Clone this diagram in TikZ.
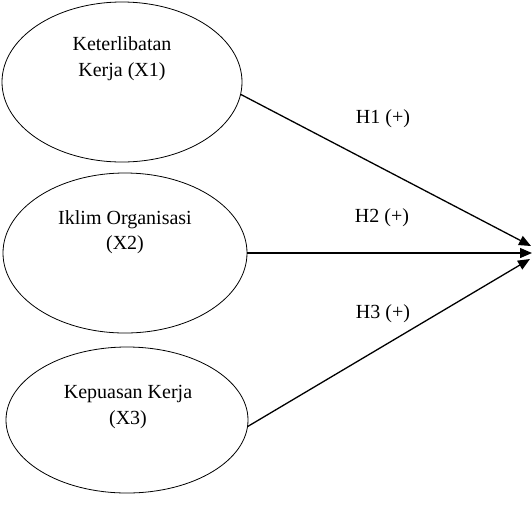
\documentclass[tikz,border=0pt]{standalone}
\usepackage{fontspec}
\setmainfont{Liberation Serif}
\usetikzlibrary{shapes.geometric,arrows.meta}
\begin{document}
\begin{tikzpicture}[x=1pt,y=-1pt,
  var/.style={draw,ellipse,line width=0.8pt,inner sep=0pt},
  txt/.style={anchor=base,inner sep=0pt,font=\fontsize{20}{24}\selectfont},
  arr/.style={line width=1.3pt,-{Triangle[length=12pt,width=10pt]}}]
\useasboundingbox (0,0) rectangle (532,512);
\node[var,minimum width=240pt,minimum height=160pt] (e1) at (122,82) {};
\node[var,minimum width=244pt,minimum height=160pt] (e2) at (125,253) {};
\node[var,minimum width=242pt,minimum height=146pt] (e3) at (127,420) {};
\node[txt] (t1a) at (122,50) {Keterlibatan};
\node[txt] (t1b) at (122,76) {Kerja (X1)};
\node[txt] (t2a) at (125,224) {Iklim Organisasi};
\node[txt] (t2b) at (125,249) {(X2)};
\node[txt] (t3a) at (128,398) {Kepuasan Kerja};
\node[txt] (t3b) at (128,424) {(X3)};
\coordinate (p1) at (531,246);
\coordinate (p2) at (532,253);
\coordinate (p3) at (530,259);
\draw[arr] (e1.-6) -- (p1);
\draw[arr] (e2.east) -- (p2);
\draw[arr] (e3.-3) -- (p3);
\node[txt] (h1) at (383,123) {H1 (+)};
\node[txt] (h2) at (382,222) {H2 (+)};
\node[txt] (h3) at (383,318) {H3 (+)};
\end{tikzpicture}
\end{document}
